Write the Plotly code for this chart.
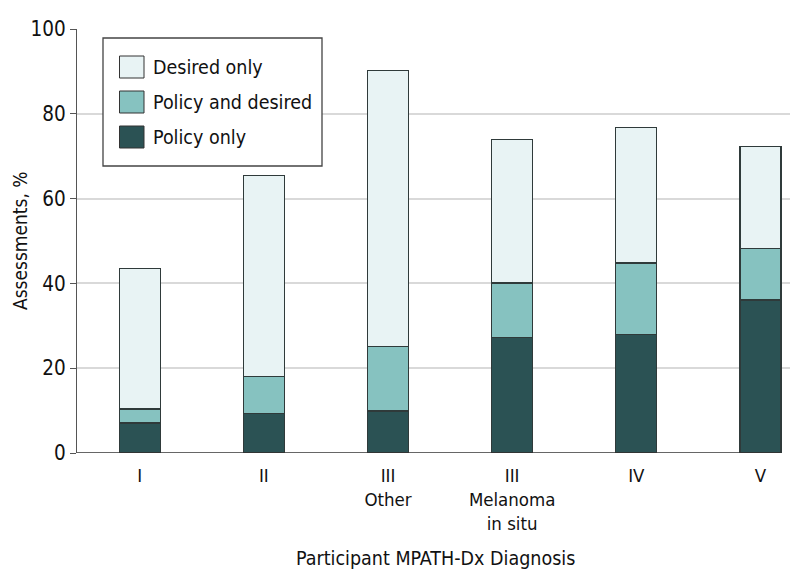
import plotly.graph_objects as go

categories = ["I", "II", "III<br>Other", "III<br>Melanoma<br>in situ", "IV", "V"]
series_names = ["Desired only", "Policy and desired", "Policy only"]
policy_only = [7.1, 9.4, 9.9, 27.3, 27.9, 36.1]
policy_and_desired = [3.3, 8.6, 15.2, 12.8, 16.9, 12.1]
desired_only = [33.1, 47.5, 65.1, 33.8, 31.9, 24.1]
y_ticks = [0, 20, 40, 60, 80, 100]

colors = {"Desired only": "#e8f3f4", "Policy and desired": "#86c2c0", "Policy only": "#2b5254"}
FONT = "Liberation Sans Narrow, DejaVu Sans Condensed, Arial Narrow, sans-serif"
OFF = 8  # page body margin
W, H = 798 - OFF, 588 - OFF
# plot area in page pixels: x 77..793, y 29..453
ML, MR, MT, MB = 77 - OFF, 798 - 793, 29 - OFF, 588 - 453
BAR_W = 0.33

xs = list(range(len(categories)))
fig = go.Figure()
for name, vals in [("Policy only", policy_only),
                   ("Policy and desired", policy_and_desired),
                   ("Desired only", desired_only)]:
    fig.add_trace(go.Bar(
        x=xs, y=vals, name=name, width=BAR_W,
        marker=dict(color=colors[name], line=dict(color="#2f3a3a", width=1.2)),
        showlegend=False,
    ))

pw, ph = W - ML - MR, H - MT - MB
def px(xp):  # page pixel -> paper
    return (xp - OFF - ML) / pw
def py(yp):
    return 1 - (yp - OFF - MT) / ph

shapes = [dict(type="rect", xref="paper", yref="paper",
               x0=px(103), x1=px(322), y0=py(166), y1=py(38),
               line=dict(color="#444", width=1.3), fillcolor="white", layer="above")]
annotations = []
for i, name in enumerate(series_names):
    yc = 67 + i * 35
    shapes.append(dict(type="rect", xref="paper", yref="paper",
                       x0=px(119.5), x1=px(144), y0=py(yc + 11), y1=py(yc - 11),
                       line=dict(color="#333", width=1), fillcolor=colors[name], layer="above"))
    annotations.append(dict(xref="paper", yref="paper", x=px(151), y=py(yc),
                            text=name, showarrow=False, xanchor="left", yanchor="middle",
                            font=dict(family=FONT, size=19.5, color="#111")))

annotations.append(dict(xref="paper", yref="paper", x=px(20), y=0.5, text="Assessments, %",
                        textangle=-90, showarrow=False, xanchor="center", yanchor="middle",
                        font=dict(family=FONT, size=19, color="#111")))
annotations.append(dict(xref="paper", yref="paper", x=0.5, y=py(558),
                        text="Participant MPATH-Dx Diagnosis", showarrow=False,
                        xanchor="center", yanchor="middle",
                        font=dict(family=FONT, size=19.5, color="#111")))

shapes.append(dict(type="line", xref="x", yref="y", x0=-0.505, x1=xs[-1] + BAR_W / 2,
                   y0=0, y1=0, line=dict(color="#333", width=1.3), layer="above"))

fig.update_layout(
    width=W, height=H,
    margin=dict(l=ML, r=MR, t=MT, b=MB, pad=0, autoexpand=False),
    barmode="stack",
    plot_bgcolor="white", paper_bgcolor="white",
    font=dict(family=FONT, size=18, color="#111"),
    shapes=shapes, annotations=annotations,
    xaxis=dict(range=[-0.505, 5.262], tickvals=xs, ticktext=categories,
               showgrid=False, zeroline=False, showline=False, ticks="",
               tickfont=dict(size=18.5), automargin=False, ticklabelstandoff=9),
    yaxis=dict(range=[0, 100], tickvals=y_ticks, showgrid=True, gridcolor="#d9d9d9", gridwidth=1.5,
               zeroline=False, showline=True, linecolor="#555", linewidth=1.3,
               ticks="outside", ticklen=6, tickcolor="#555", tickwidth=1.3,
               tickfont=dict(size=20.5), automargin=False),
)

fig.write_html("out.html")
